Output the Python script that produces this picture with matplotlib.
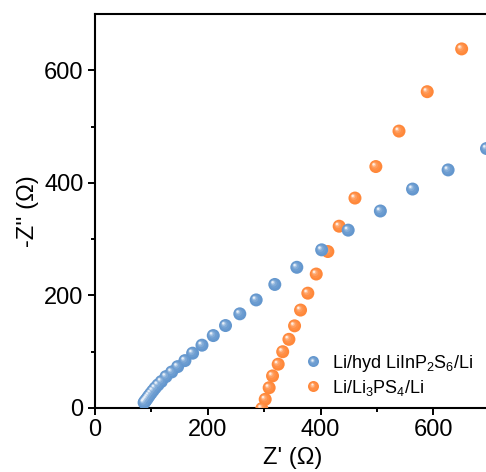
import matplotlib
matplotlib.use("Agg")
import matplotlib.pyplot as plt
import numpy as np
from matplotlib.transforms import ScaledTranslation
from matplotlib.lines import Line2D
from matplotlib.legend_handler import HandlerBase

plt.rcParams['font.family'] = ['Liberation Sans', 'DejaVu Sans']
plt.rcParams['mathtext.default'] = 'regular'

# Nyquist data, Z' and -Z'' in ohm
hyd_zre = [87.5, 88.5, 90, 92, 94, 96.5, 99.5, 103, 107, 112, 118,
           126.2, 136.3, 146.9, 159.8, 173.4, 190, 210, 231.7, 257, 286,
           319, 358, 402, 449, 506, 563, 626, 694]
hyd_zim = [9.5, 11, 13, 15.5, 18.5, 22, 26, 30.5, 35.5, 41, 47,
           55.8, 64, 73.5, 84.2, 97.4, 111.6, 128.7, 146.5, 167.3, 192,
           219.5, 250, 281, 316, 350, 389, 423, 461]

lps_zre = [296, 302, 309, 315, 325, 333, 344, 354, 364.6, 377.5, 392.4,
           413, 433, 461, 498, 539, 589, 650]
lps_zim = [-1, 15.4, 36, 57, 77.8, 100, 122, 146, 174, 204, 238,
           278, 323, 373, 429, 492, 562, 638]

labels = [r'Li/hyd LiInP$_2$S$_6$/Li', r'Li/Li$_3$PS$_4$/Li']
colors = ['#6497CE', '#FF883A']

fig = plt.figure(figsize=(4.86, 4.72), dpi=100)
ax = fig.add_axes([0.1949, 0.1356, 1.008 - 0.1949, 0.9703 - 0.1356])

PX = 0.72  # points per pixel at 100 dpi
# (diameter px, lightening, up-left shift px) for the shaded sphere
LAYERS = [(13.0, 0.0, 0.0), (9.5, 0.06, 0.6), (6.5, 0.18, 1.2),
          (4.2, 0.42, 1.8), (2.4, 0.85, 2.2)]


def lighten(c, f):
    rgb = np.array(matplotlib.colors.to_rgb(c))
    return tuple(rgb + (1 - rgb) * f)


def ball(x, y, color, z):
    for i, (d, f, off) in enumerate(LAYERS):
        tr = ax.transData + ScaledTranslation(-off * PX / 72, off * PX / 72,
                                              fig.dpi_scale_trans)
        ax.scatter(x, y, s=(d * PX) ** 2, color=lighten(color, f),
                   edgecolors='none', transform=tr, zorder=z + i * 0.01,
                   clip_on=True)


class Ball:
    def __init__(self, color):
        self.color = color


class BallHandler(HandlerBase):
    scale = 11.0 / 13.0

    def create_artists(self, legend, orig_handle, xdescent, ydescent,
                       width, height, fontsize, trans):
        cx = width / 2 - xdescent
        cy = height / 2 - ydescent
        arts = []
        for d, f, off in LAYERS:
            o = off * PX * self.scale
            ln = Line2D([cx - o], [cy + o], ls='none', marker='o',
                        markersize=d * PX * self.scale,
                        markerfacecolor=lighten(orig_handle.color, f),
                        markeredgecolor='none')
            ln.set_transform(trans)
            arts.append(ln)
        return arts


ball(lps_zre, lps_zim, colors[1], 3)
ball(hyd_zre, hyd_zim, colors[0], 4)

ax.set_xlim(0, 700)
ax.set_ylim(0, 700)
ax.set_xticks([0, 200, 400, 600])
ax.set_yticks([0, 200, 400, 600])
ax.set_xticks([100, 300, 500], minor=True)
ax.set_yticks([100, 300, 500], minor=True)
ax.tick_params(which='major', direction='out', length=5, width=1.4,
               labelsize=17, top=False, right=False, pad=3)
ax.tick_params(which='minor', direction='out', length=3, width=1.4,
               top=False, right=False)
for sp in ax.spines.values():
    sp.set_linewidth(1.5)

ax.set_xlabel("Z' (Ω)", fontsize=17, labelpad=4)
ax.set_ylabel("-Z'' (Ω)", fontsize=17, labelpad=4)

ax.legend([Ball(c) for c in colors], labels, loc='lower left',
          bbox_to_anchor=(0.485, -0.015), frameon=False, fontsize=13,
          handletextpad=0.45, handlelength=1.2, labelspacing=0.22,
          handler_map={Ball: BallHandler()})

fig.savefig('out.png', dpi=100)
